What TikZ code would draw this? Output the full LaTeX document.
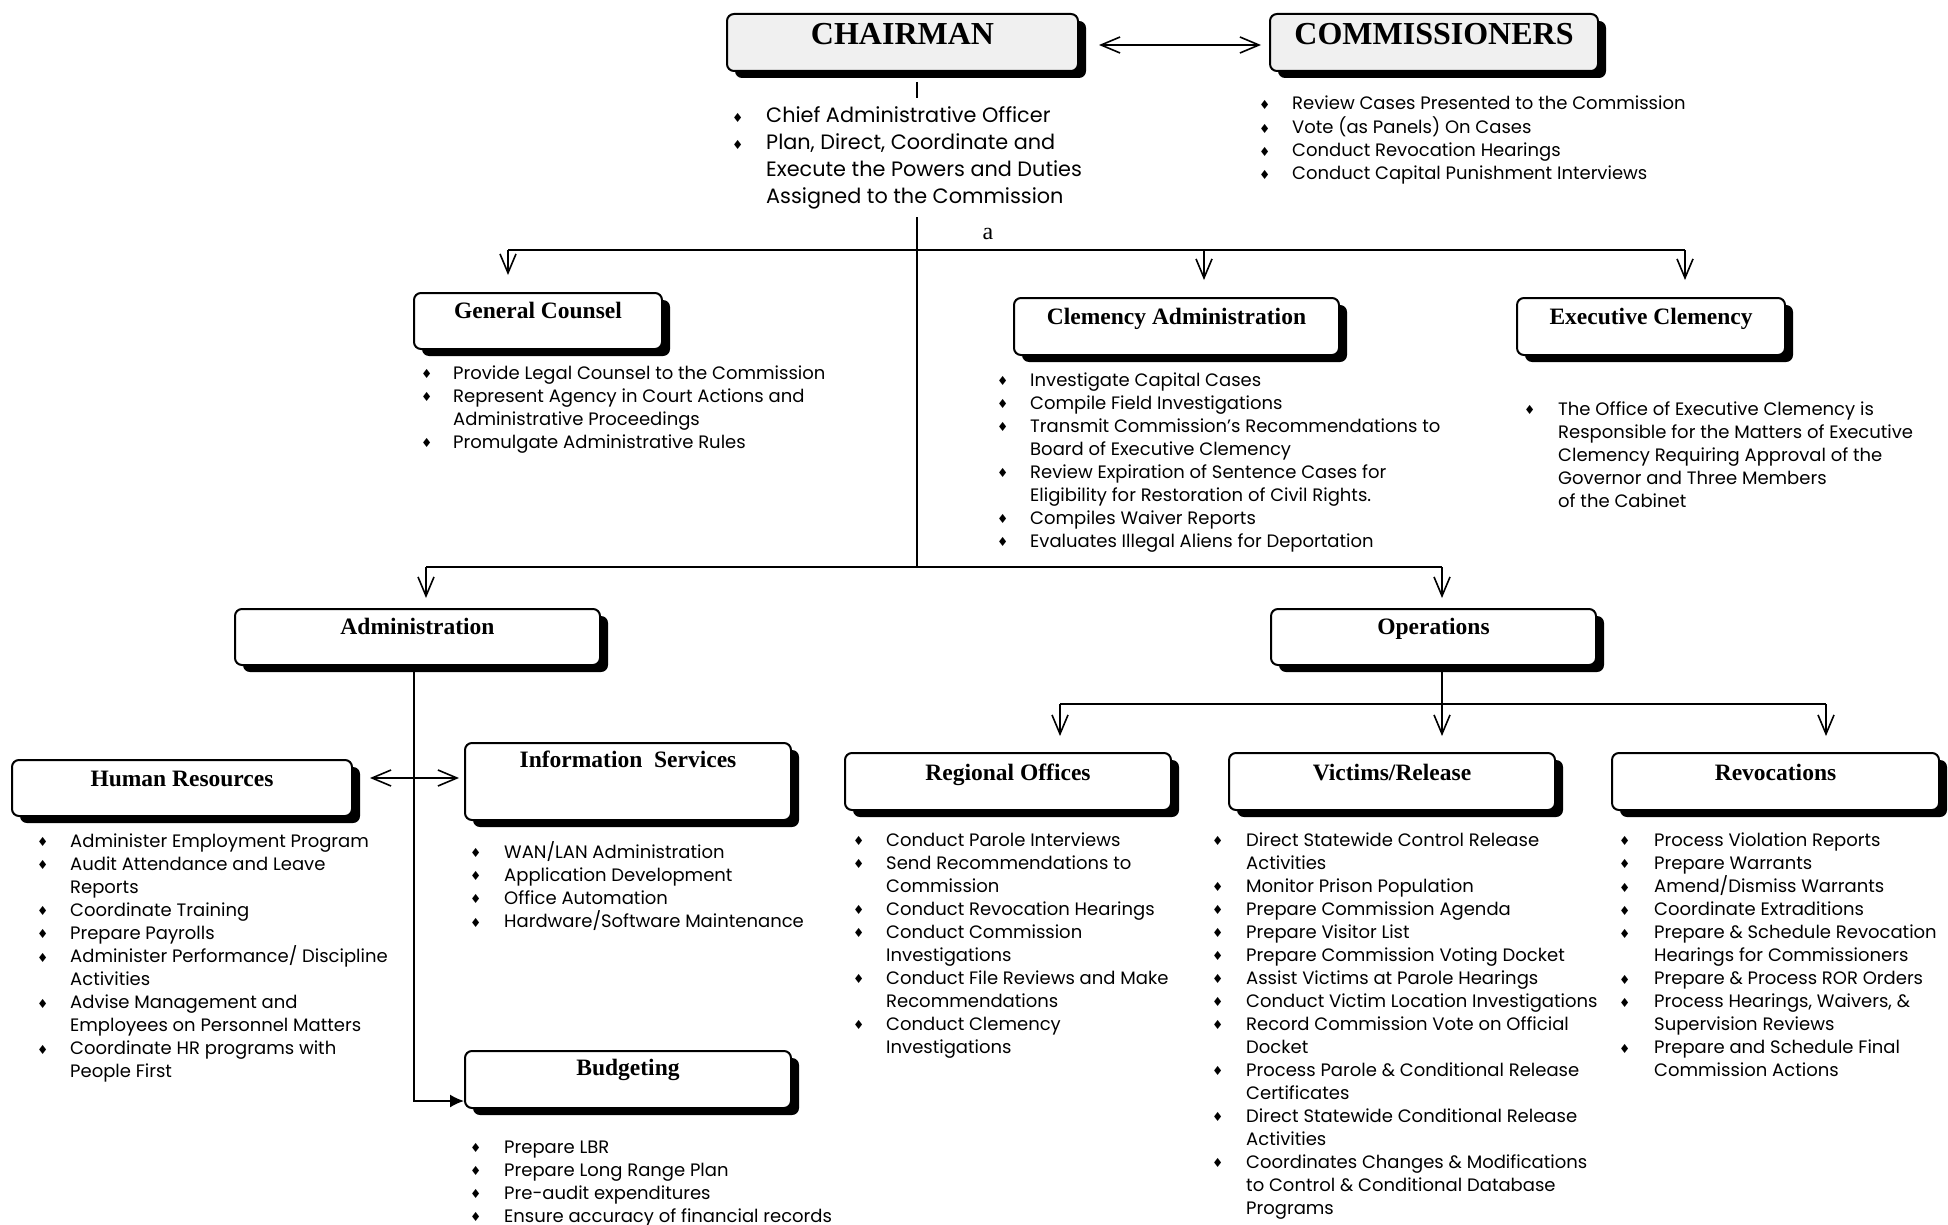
\documentclass[tikz,border=0pt]{standalone}
\usepackage{fontspec}
\setmainfont{Liberation Serif}
\newfontfamily\listfont{Poppins}
\newfontfamily\symfont{DejaVu Sans}
\usetikzlibrary{calc,shadows,positioning,arrows.meta}

\newcommand{\dmd}{\raisebox{0.5pt}{\symfont\fontsize{12.5}{12.5}\selectfont ♦}}
\newenvironment{dutylist}[1][33pt]{\begin{tabular}[t]{@{}p{#1}@{}l@{}}}{\end{tabular}}

\begin{document}
\begin{tikzpicture}[x=1pt,y=-1pt,
    orgbox/.style={draw,line width=2pt,rounded corners=7pt,fill=white,inner sep=0pt,
        drop shadow={shadow xshift=8pt,shadow yshift=-7pt,opacity=1,fill=black}},
    headbox/.style={orgbox,fill=gray!12},
    boxtitle/.style={anchor=base,inner sep=0pt,font=\bfseries\fontsize{23.5}{26}\selectfont},
    headtitle/.style={anchor=base,inner sep=0pt,font=\bfseries\fontsize{32}{34}\selectfont},
    duties/.style={anchor=base west,inner sep=0pt,font=\listfont\fontsize{18}{23}\selectfont},
    conn/.style={line width=1.6pt},
    link/.style={conn,-{Straight Barb[length=19pt,width=16pt]}},
    dlink/.style={conn,{Straight Barb[length=19pt,width=16pt]}-{Straight Barb[length=19pt,width=16pt]}},
    fwd/.style={conn,-{Latex[length=14pt,width=13pt]}}]
    \useasboundingbox (0,0) rectangle (1948,1225);

    \node[headbox,minimum width=351pt,minimum height=57pt] (chair) at (902.5,42.5) {};
    \node[headbox,minimum width=328pt,minimum height=57pt] (comm) at (1434,42.5) {};
    \node[headtitle] (chairt) at ([yshift=-32pt]chair.north) {CHAIRMAN};
    \node[headtitle] (commt) at ([yshift=-32pt]comm.north) {COMMISSIONERS};

    \node[orgbox,minimum width=248pt,minimum height=56pt] (gc) at (538,321) {};
    \node[orgbox,minimum width=325pt,minimum height=57pt] (clem) at (1176.5,326.5) {};
    \node[orgbox,minimum width=268pt,minimum height=57pt] (exec) at (1651,326.5) {};
    \node[orgbox,minimum width=365pt,minimum height=56pt] (admin) at (417.5,637) {};
    \node[orgbox,minimum width=325pt,minimum height=56pt] (ops) at (1433.5,637) {};
    \node[orgbox,minimum width=340pt,minimum height=56pt] (hr) at (182,788) {};
    \node[orgbox,minimum width=326pt,minimum height=77pt] (is) at (628,781.5) {};
    \node[orgbox,minimum width=326pt,minimum height=57pt] (budget) at (628,1079.5) {};
    \node[orgbox,minimum width=326pt,minimum height=57pt] (reg) at (1008,781.5) {};
    \node[orgbox,minimum width=326pt,minimum height=57pt] (vic) at (1392,781.5) {};
    \node[orgbox,minimum width=327pt,minimum height=57pt] (rev) at (1775.5,781.5) {};

    \node[boxtitle] (gct) at ([yshift=-26pt]gc.north) {General Counsel};
    \node[boxtitle] (clemt) at ([yshift=-27pt]clem.north) {Clemency Administration};
    \node[boxtitle] (exect) at ([yshift=-27pt]exec.north) {Executive Clemency};
    \node[boxtitle] (admint) at ([yshift=-26pt]admin.north) {Administration};
    \node[boxtitle] (opst) at ([yshift=-26pt]ops.north) {Operations};
    \node[boxtitle] (hrt) at ([yshift=-27pt]hr.north) {Human Resources};
    \node[boxtitle] (ist) at ([yshift=-25pt]is.north) {Information\ \ Services};
    \node[boxtitle] (budgett) at ([yshift=-25pt]budget.north) {Budgeting};
    \node[boxtitle] (regt) at ([yshift=-28pt]reg.north) {Regional Offices};
    \node[boxtitle] (vict) at ([yshift=-28pt]vic.north) {Victims/Release};
    \node[boxtitle] (revt) at ([yshift=-28pt]rev.north) {Revocations};

    \node[duties,font=\listfont\fontsize{20.8}{26.7}\selectfont] (chairlist) at (732,123) {\begin{dutylist}[34pt]
        \dmd & Chief Administrative Officer\\
        \dmd & Plan, Direct, Coordinate and\\
             & Execute the Powers and Duties\\
             & Assigned to the Commission
    \end{dutylist}};
    \node[duties] (commlist) at (1259,110) {\begin{dutylist}
        \dmd & Review Cases Presented to the Commission\\
        \dmd & Vote (as Panels) On Cases\\
        \dmd & Conduct Revocation Hearings\\
        \dmd & Conduct Capital Punishment Interviews
    \end{dutylist}};
    \node[duties] (gclist) at (421,379) {\begin{dutylist}[32pt]
        \dmd & Provide Legal Counsel to the Commission\\
        \dmd & Represent Agency in Court Actions and\\
             & Administrative Proceedings\\
        \dmd & Promulgate Administrative Rules
    \end{dutylist}};
    \node[duties] (clemlist) at (997,386) {\begin{dutylist}
        \dmd & Investigate Capital Cases\\
        \dmd & Compile Field Investigations\\
        \dmd & Transmit Commission’s Recommendations to\\
             & Board of Executive Clemency\\
        \dmd & Review Expiration of Sentence Cases for\\
             & Eligibility for Restoration of Civil Rights.\\
        \dmd & Compiles Waiver Reports\\
        \dmd & Evaluates Illegal Aliens for Deportation
    \end{dutylist}};
    \node[duties] (execlist) at (1524,415) {\begin{dutylist}[34pt]
        \dmd & The Office of Executive Clemency is\\
             & Responsible for the Matters of Executive\\
             & Clemency Requiring Approval of the\\
             & Governor and Three Members\\
             & of the Cabinet
    \end{dutylist}};
    \node[duties] (hrlist) at (37,847) {\begin{dutylist}
        \dmd & Administer Employment Program\\
        \dmd & Audit Attendance and Leave\\
             & Reports\\
        \dmd & Coordinate Training\\
        \dmd & Prepare Payrolls\\
        \dmd & Administer Performance/ Discipline\\
             & Activities\\
        \dmd & Advise Management and\\
             & Employees on Personnel Matters\\
        \dmd & Coordinate HR programs with\\
             & People First
    \end{dutylist}};
    \node[duties] (islist) at (470,858) {\begin{dutylist}[34pt]
        \dmd & WAN/LAN Administration\\
        \dmd & Application Development\\
        \dmd & Office Automation\\
        \dmd & Hardware/Software Maintenance
    \end{dutylist}};
    \node[duties] (budgetlist) at (470,1153) {\begin{dutylist}[34pt]
        \dmd & Prepare LBR\\
        \dmd & Prepare Long Range Plan\\
        \dmd & Pre-audit expenditures\\
        \dmd & Ensure accuracy of financial records
    \end{dutylist}};
    \node[duties] (reglist) at (853,846) {\begin{dutylist}
        \dmd & Conduct Parole Interviews\\
        \dmd & Send Recommendations to\\
             & Commission\\
        \dmd & Conduct Revocation Hearings\\
        \dmd & Conduct Commission\\
             & Investigations\\
        \dmd & Conduct File Reviews and Make\\
             & Recommendations\\
        \dmd & Conduct Clemency\\
             & Investigations
    \end{dutylist}};
    \node[duties] (viclist) at (1212,846) {\begin{dutylist}[34pt]
        \dmd & Direct Statewide Control Release\\
             & Activities\\
        \dmd & Monitor Prison Population\\
        \dmd & Prepare Commission Agenda\\
        \dmd & Prepare Visitor List\\
        \dmd & Prepare Commission Voting Docket\\
        \dmd & Assist Victims at Parole Hearings\\
        \dmd & Conduct Victim Location Investigations\\
        \dmd & Record Commission Vote on Official\\
             & Docket\\
        \dmd & Process Parole \& Conditional Release\\
             & Certificates\\
        \dmd & Direct Statewide Conditional Release\\
             & Activities\\
        \dmd & Coordinates Changes \& Modifications\\
             & to Control \& Conditional Database\\
             & Programs
    \end{dutylist}};
    \node[duties] (revlist) at (1619,846) {\begin{dutylist}[35pt]
        \dmd & Process Violation Reports\\
        \dmd & Prepare Warrants\\
        \dmd & Amend/Dismiss Warrants\\
        \dmd & Coordinate Extraditions\\
        \dmd & Prepare \& Schedule Revocation\\
             & Hearings for Commissioners\\
        \dmd & Prepare \& Process ROR Orders\\
        \dmd & Process Hearings, Waivers, \&\\
             & Supervision Reviews\\
        \dmd & Prepare and Schedule Final\\
             & Commission Actions
    \end{dutylist}};

    \node[anchor=base,inner sep=0pt,font=\fontsize{24}{24}\selectfont] (amark) at (988,240) {a};

    \draw[dlink,shorten <=20pt,shorten >=8pt] ([yshift=-2.5pt]chair.east) -- ([yshift=-2.5pt]comm.west);
    \coordinate (tick) at (917,82);
    \draw[conn] (tick) -- ++(0,16);

    \coordinate (trunk) at (917,217);
    \coordinate (split) at (917,567);
    \draw[conn] (trunk) -- (split);
    \draw[conn] (508,250) -- (1685,250);
    \foreach \n/\x in {gc/508,clem/1204,exec/1685} {
        \coordinate (top\n) at (\x,250);
        \draw[link,shorten >=17pt] (top\n) -- (top\n |- \n.north);
    }

    \draw[conn] (426,567) -- (1442,567);
    \foreach \n/\x in {admin/426,ops/1442} {
        \coordinate (top\n) at (\x,567);
        \draw[link,shorten >=10pt] (top\n) -- (top\n |- \n.north);
    }

    \coordinate (adminfoot) at (414,1101);
    \draw[fwd] (admin.south -| adminfoot) -- (adminfoot) -- (budget.west |- adminfoot);
    \draw[dlink,shorten <=17pt,shorten >=5pt] ([yshift=10pt]hr.east) -- ([yshift=3.5pt]is.west);

    \coordinate (opsplit) at (1442,704);
    \draw[conn] (ops.south -| opsplit) -- (opsplit);
    \draw[conn] (1060,704) -- (1826,704);
    \foreach \n/\x in {reg/1060,vic/1442,rev/1826} {
        \coordinate (top\n) at (\x,704);
        \draw[link,shorten >=16pt] (top\n) -- (top\n |- \n.north);
    }
\end{tikzpicture}
\end{document}
